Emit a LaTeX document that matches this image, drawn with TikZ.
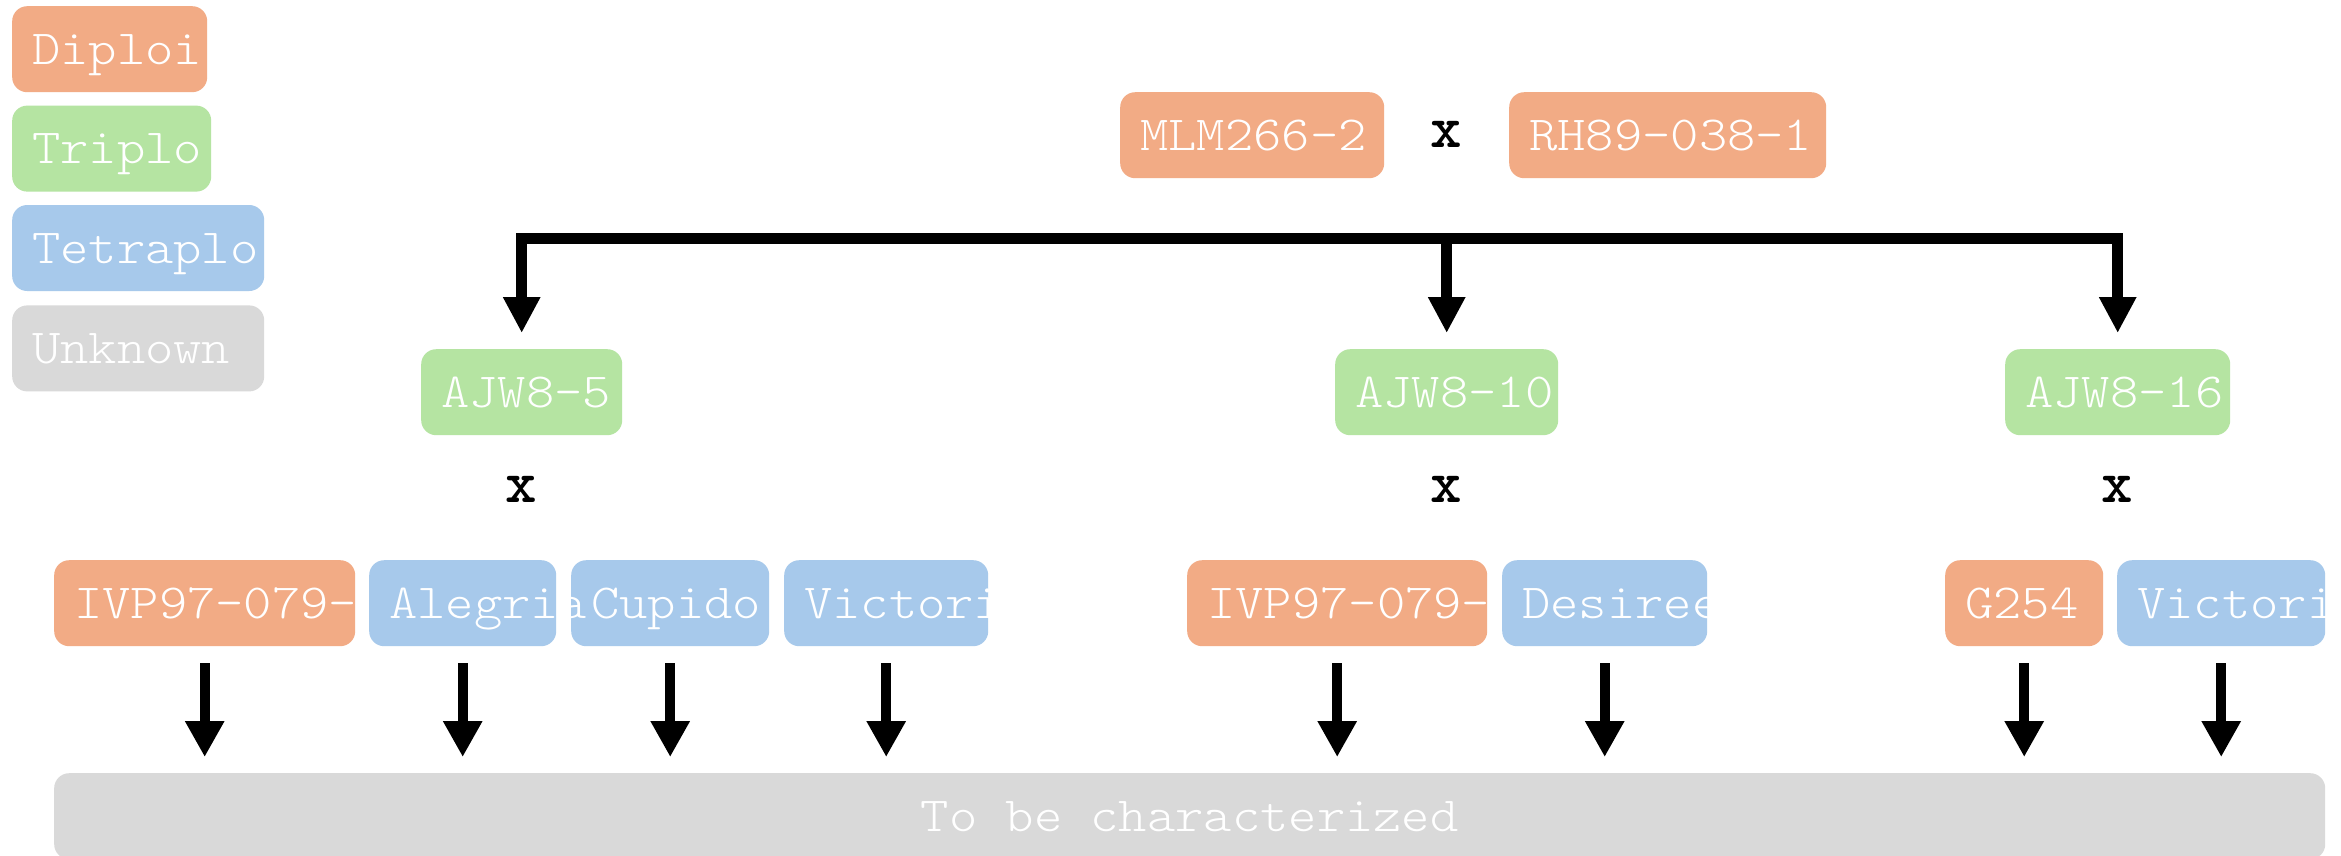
\documentclass[tikz,border=0pt]{standalone}
\usepackage{fontspec}
\usepackage{tikz}
\usetikzlibrary{positioning}
\usetikzlibrary{arrows.meta}
\newfontfamily\labfont{lmmonolt10-regular.otf}[FakeStretch=1.1]
\newfontfamily\crossfont{lmmonolt10-bold.otf}
\definecolor{dipcol}{HTML}{F2AB85}
\definecolor{tricol}{HTML}{B5E4A2}
\definecolor{tetcol}{HTML}{A7C9EB}
\definecolor{unkcol}{HTML}{D9D9D9}

\begin{document}
\begin{tikzpicture}[
      x=1pt, y=-1pt,
      cultivar/.style={anchor=north west, rounded corners=15pt, minimum height=86pt,
        inner xsep=20pt, inner ysep=0pt, align=left, text=white,
        font=\labfont\fontsize{49}{49}\selectfont, text height=30pt, text depth=0pt,
        execute at begin node={\hyphenpenalty=10000\exhyphenpenalty=10000}},
      diploid/.style={cultivar, fill=dipcol},
      triploid/.style={cultivar, fill=tricol},
      tetraploid/.style={cultivar, fill=tetcol},
      unknown/.style={cultivar, fill=unkcol},
      mating/.style={inner sep=0pt, font=\crossfont\fontsize{60}{60}\selectfont},
      fork/.style={line width=11pt, line cap=rect},
      branch/.style={fork, -{Triangle[length=36pt, width=35pt]}, shorten >=16pt},
      offspring/.style={line width=10pt, -{Triangle[length=36pt, width=37pt]}, shorten <=17pt, shorten >=16pt}
    ]
    \fill[white] (0,0) rectangle (2341,855);
    \useasboundingbox (0,0) rectangle (2341,855);

    % legend
    \node(legdip)[diploid, text width=155pt] at (12,6) {Diploi};
    \node(legtri)[triploid, text width=159pt, below=13pt of legdip.south west, anchor=north west] {Triplo};
    \node(legtet)[tetraploid, text width=212pt, below=13pt of legtri.south west, anchor=north west] {Tetraplo};
    \node(legunk)[unknown, text width=212pt, below=14pt of legtet.south west, anchor=north west] {Unknown};

    % parents
    \node(mlm)[diploid, text width=224pt] at (1120,92) {MLM266-2};
    \node(rh)[diploid, text width=277pt] at (1509,92) {RH89-038-1};
    \node(x0)[mating] at (1446,134) {x};

    % first generation
    \node(ajw5)[triploid, text width=161pt] at (421,349) {AJW8-5};
    \node(ajw10)[triploid, text width=183pt] at (1335,349) {AJW8-10};
    \node(ajw16)[triploid, text width=185pt] at (2005,349) {AJW8-16};
    \node(x5)[mating] at ([yshift=-54pt]ajw5.south) {x};
    \node(x10)[mating] at ([yshift=-54pt]ajw10.south) {x};
    \node(x16)[mating] at ([yshift=-54pt]ajw16.south) {x};

    \coordinate (bar) at (0,238);
    \draw[fork] (ajw5.north |- bar) -- (ajw16.north |- bar);
    \foreach \n in {ajw5, ajw10, ajw16}
      \draw[branch] (\n.north |- bar) -- (\n.north);

    % second parents
    \node(ivpa)[diploid, text width=261pt] at (54,560) {IVP97-079-};
    \node(cupido)[tetraploid, text width=158pt] at (571,560) {Cupido};
    \node(alegria)[tetraploid, text width=147pt] at (369,560) {Alegria};
    \node(victa)[tetraploid, text width=164pt] at (784,560) {Victori};
    \node(ivpb)[diploid, text width=260pt] at (1187,560) {IVP97-079-};
    \node(desiree)[tetraploid, text width=165pt] at (1502,560) {Desiree};
    \node(g254)[diploid, text width=118pt] at (1945,560) {G254};
    \node(victb)[tetraploid, text width=168pt] at (2117,560) {Victori};

    \node(todo)[unknown, minimum width=2271pt, inner xsep=0pt] at (54,773) {To be characterized};

    \foreach \n in {ivpa, alegria, cupido, victa, ivpb, desiree, g254, victb}
      \draw[offspring] (\n.south) -- (\n.south |- todo.north);
\end{tikzpicture}
\end{document}
